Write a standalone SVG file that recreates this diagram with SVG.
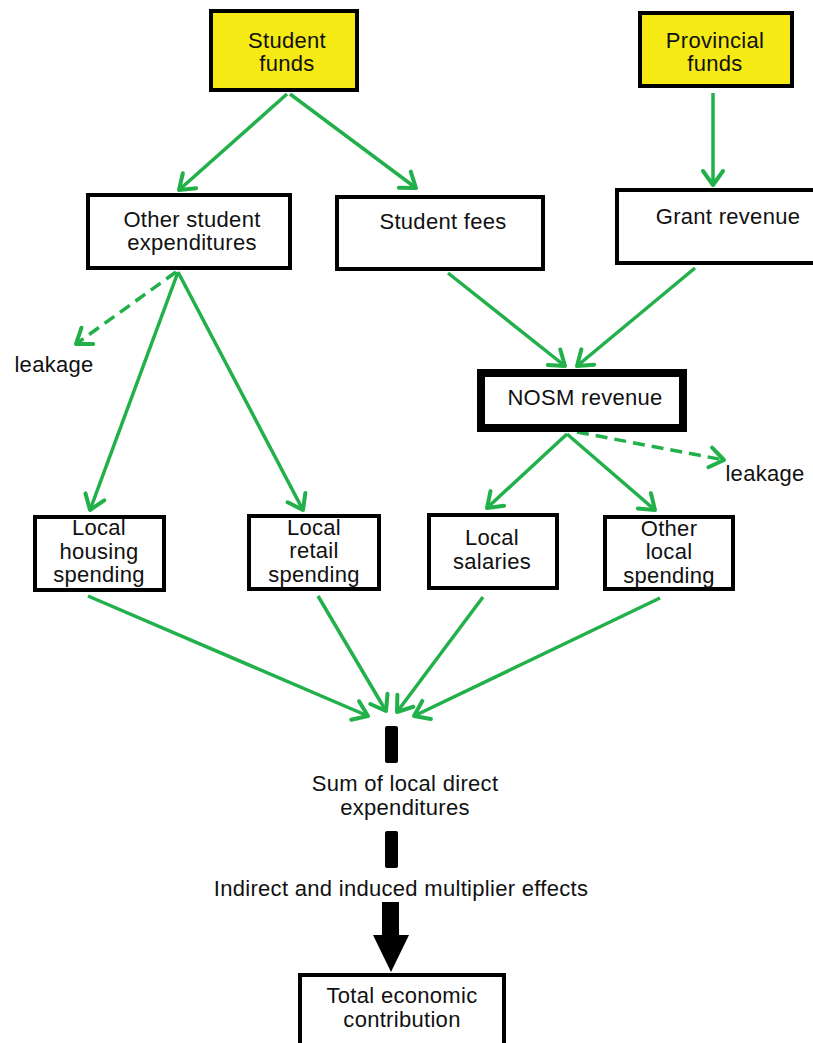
<svg xmlns="http://www.w3.org/2000/svg" width="813" height="1043" viewBox="0 0 813 1043">
<defs>
<marker id="ah" markerUnits="userSpaceOnUse" markerWidth="30" markerHeight="30" viewBox="-20 -15 30 30" refX="0" refY="0" orient="auto">
<path d="M-14,-10 L0,0 L-14,10" fill="none" stroke="#22b04a" stroke-width="4" stroke-linecap="round" stroke-linejoin="round"/>
</marker>
</defs>
<style>
.box{fill:#fff;stroke:#000;stroke-width:4}
.yel{fill:#f5ea14;stroke:#000;stroke-width:4}
.thick{fill:#fff;stroke:#000;stroke-width:8}
text{font-family:"Liberation Sans",Arial,sans-serif;font-size:22px;letter-spacing:0.3px;fill:#111;text-anchor:middle}
.g{stroke:#22b04a;stroke-width:3.5;fill:none;marker-end:url(#ah)}
.d{stroke-dasharray:12,7}
</style>
<rect width="813" height="1043" fill="#fff"/>
<g id="connectors">
<line class="g" x1="287" y1="94" x2="179" y2="190"/>
<line class="g" x1="290" y1="94" x2="416" y2="188"/>
<line class="g" x1="713" y1="93" x2="713" y2="185"/>
<line class="g" x1="448" y1="273" x2="565" y2="366"/>
<line class="g" x1="695" y1="268" x2="577" y2="366"/>
<line class="g d" x1="176" y1="272" x2="76" y2="344"/>
<line class="g" x1="178" y1="272" x2="90" y2="510"/>
<line class="g" x1="178" y1="272" x2="303" y2="510"/>
<line class="g" x1="567" y1="434" x2="487" y2="508"/>
<line class="g" x1="567" y1="434" x2="655" y2="510"/>
<line class="g d" x1="577" y1="432" x2="724" y2="460"/>
<line class="g" x1="88" y1="596" x2="368" y2="716"/>
<line class="g" x1="318" y1="596" x2="386" y2="711"/>
<line class="g" x1="483" y1="597" x2="397" y2="712"/>
<line class="g" x1="660" y1="598" x2="414" y2="716"/>
<rect x="385" y="726" width="13" height="37" rx="2" fill="#000"/>
<rect x="385" y="831" width="13" height="37" rx="2" fill="#000"/>
<rect x="382" y="902" width="17" height="36" fill="#000"/>
<path d="M373,935 L409,935 L391,972 Z" fill="#000"/>
</g>
<g id="student-funds"><rect class="yel" x="211" y="11" width="146" height="79"/><text x="287" y="48">Student</text><text x="287" y="71">funds</text></g>
<g id="provincial-funds"><rect class="yel" x="640" y="13" width="152" height="73"/><text x="715" y="48">Provincial</text><text x="715" y="71">funds</text></g>
<g id="other-student-expenditures"><rect class="box" x="88" y="195" width="202" height="73"/><text x="192" y="227">Other student</text><text x="192" y="250">expenditures</text></g>
<g id="student-fees"><rect class="box" x="337" y="197" width="206" height="72"/><text x="443" y="229">Student fees</text></g>
<g id="grant-revenue"><rect class="box" x="617" y="190" width="200" height="73"/><text x="728" y="224">Grant revenue</text></g>
<g id="leakage-left"><text x="54" y="372">leakage</text></g>
<g id="nosm-revenue"><rect class="thick" x="481" y="373" width="202" height="55"/><text x="585" y="405">NOSM revenue</text></g>
<g id="leakage-right"><text x="765" y="481">leakage</text></g>
<g id="local-housing"><rect class="box" x="35" y="517" width="129" height="73"/><text x="99" y="535">Local</text><text x="99" y="559">housing</text><text x="99" y="582">spending</text></g>
<g id="local-retail"><rect class="box" x="249" y="516" width="130" height="73"/><text x="314" y="535">Local</text><text x="314" y="558">retail</text><text x="314" y="582">spending</text></g>
<g id="local-salaries"><rect class="box" x="429" y="515" width="128" height="73"/><text x="492" y="545">Local</text><text x="492" y="569">salaries</text></g>
<g id="other-local"><rect class="box" x="605" y="517" width="128" height="72"/><text x="669" y="536">Other</text><text x="669" y="559">local</text><text x="669" y="583">spending</text></g>
<g id="sum-direct"><text x="405" y="791">Sum of local direct</text><text x="405" y="815">expenditures</text></g>
<g id="multiplier"><text x="401" y="896">Indirect and induced multiplier effects</text></g>
<g id="total"><rect class="box" x="300" y="975" width="204" height="80"/><text x="402" y="1003">Total economic</text><text x="402" y="1027">contribution</text></g>
</svg>
